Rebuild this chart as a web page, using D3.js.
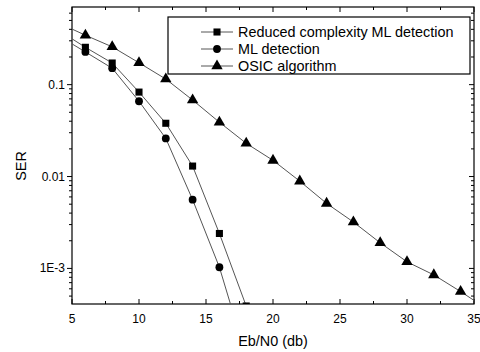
<!DOCTYPE html>
<html>
<head>
<script src="https://d3js.org/d3.v7.min.js"></script>
<style>
  body { margin: 0; background: #fff; }
  svg { font-family: "Liberation Sans", Arial, sans-serif; }
</style>
</head>
<body>
<div id="chart"></div>
<script>
// Eb/N0 points (dB); 4 and 36 only carry the line out to the frame edge
const ebn0 = [4, 6, 8, 10, 12, 14, 16, 18, 20, 22, 24, 26, 28, 30, 32, 34, 36];
const reducedML = [0.39, 0.255, 0.172, 0.083, 0.038, 0.013, 0.0024, 0.00039];
const mlDetect = [0.34, 0.227, 0.151, 0.066, 0.026, 0.0056, 0.00103, 0.00011];
const osic = [0.47, 0.345, 0.258, 0.173, 0.115, 0.068, 0.039, 0.023, 0.015,
              0.0089, 0.0051, 0.0032, 0.0019, 0.00118, 0.00085, 0.00056, 0.00036];
const seriesNames = ["Reduced complexity ML detection", "ML detection", "OSIC algorithm"];
const xTicks = [5, 10, 15, 20, 25, 30, 35];
const yTicks = [0.1, 0.01, 0.001];
const yTickLabels = ["0.1", "0.01", "1E-3"];

const width = 480, height = 352;
const margin = { top: 7, right: 6, bottom: 48, left: 72 };
const iw = width - margin.left - margin.right;
const ih = height - margin.top - margin.bottom;

const svg = d3.select("#chart").append("svg")
  .attr("width", width).attr("height", height);
const g = svg.append("g").attr("transform", `translate(${margin.left},${margin.top})`);

const x = d3.scaleLinear().domain([5, 35]).range([0, iw]);
const y = d3.scaleLog().domain([4.1e-4, 0.7]).range([ih, 0]);

svg.append("clipPath").attr("id", "clip")
  .append("rect").attr("width", iw).attr("height", ih);

// ticks
const minorX = d3.range(7.5, 35, 5);
const minorY = [];
[1e-4, 1e-3, 1e-2, 1e-1].forEach(d => d3.range(2, 10).forEach(k => {
  const v = d * k;
  if (v > 4.1e-4 && v < 0.7) minorY.push(v);
}));

const tk = g.append("g").attr("stroke", "#000").attr("stroke-width", 1);
// bottom / top (inward)
xTicks.forEach(t => {
  tk.append("line").attr("x1", x(t)).attr("x2", x(t)).attr("y1", ih).attr("y2", ih - 5);
  tk.append("line").attr("x1", x(t)).attr("x2", x(t)).attr("y1", 0).attr("y2", 5);
});
minorX.forEach(t => {
  tk.append("line").attr("x1", x(t)).attr("x2", x(t)).attr("y1", ih).attr("y2", ih - 3);
  tk.append("line").attr("x1", x(t)).attr("x2", x(t)).attr("y1", 0).attr("y2", 3);
});
// left (outward) / right (inward)
yTicks.forEach(t => {
  tk.append("line").attr("x1", 0).attr("x2", -5).attr("y1", y(t)).attr("y2", y(t));
  tk.append("line").attr("x1", iw).attr("x2", iw - 5).attr("y1", y(t)).attr("y2", y(t));
});
minorY.forEach(t => {
  tk.append("line").attr("x1", 0).attr("x2", -3).attr("y1", y(t)).attr("y2", y(t));
  tk.append("line").attr("x1", iw).attr("x2", iw - 3).attr("y1", y(t)).attr("y2", y(t));
});

// tick labels
g.selectAll(".xl").data(xTicks).enter().append("text")
  .attr("x", d => x(d)).attr("y", ih + 19)
  .attr("text-anchor", "middle").attr("font-size", 12).text(d => d);
g.selectAll(".yl").data(yTicks).enter().append("text")
  .attr("x", -7).attr("y", d => y(d) + 4)
  .attr("text-anchor", "end").attr("font-size", 12).text((d, i) => yTickLabels[i]);

// frame
g.append("rect").attr("width", iw).attr("height", ih)
  .attr("fill", "none").attr("stroke", "#000").attr("stroke-width", 1.2);

// axis titles
g.append("text").attr("x", iw / 2).attr("y", ih + 42)
  .attr("text-anchor", "middle").attr("font-size", 14.4).text("Eb/N0 (db)");
svg.append("text").attr("transform", "translate(26,166) rotate(-90)")
  .attr("text-anchor", "middle").attr("font-size", 14.4).text("SER");

// data
const series = [reducedML, mlDetect, osic];
const shapes = [d3.symbolSquare, d3.symbolCircle, d3.symbolTriangle];
const sizes = [50, 48, 56];
const line = d3.line().x(d => x(d[0])).y(d => y(d[1]));
const plot = g.append("g").attr("clip-path", "url(#clip)");

series.forEach((vals, i) => {
  const pts = vals.map((v, j) => [ebn0[j], v]);
  plot.append("path").datum(pts).attr("d", line)
    .attr("fill", "none").attr("stroke", "#555").attr("stroke-width", 1);
  plot.selectAll(null).data(pts.filter(p => p[0] > 5 && p[0] < 35)).enter().append("path")
    .attr("transform", p => `translate(${x(p[0])},${y(p[1])})`)
    .attr("d", d3.symbol().type(shapes[i]).size(sizes[i]))
    .attr("fill", "#000");
});

// legend
const lg = svg.append("g");
lg.append("rect").attr("x", 168).attr("y", 17).attr("width", 302).attr("height", 57)
  .attr("fill", "#fff").attr("stroke", "#000").attr("stroke-width", 1.2);
seriesNames.forEach((name, i) => {
  const ly = 32 + i * 17;
  lg.append("line").attr("x1", 201).attr("x2", 233).attr("y1", ly).attr("y2", ly)
    .attr("stroke", "#555").attr("stroke-width", 1);
  lg.append("path").attr("transform", `translate(217,${ly})`)
    .attr("d", d3.symbol().type(shapes[i]).size(sizes[i])).attr("fill", "#000");
  lg.append("text").attr("x", 238).attr("y", ly + 5).attr("font-size", 14.4).text(name);
});
</script>
</body>
</html>
